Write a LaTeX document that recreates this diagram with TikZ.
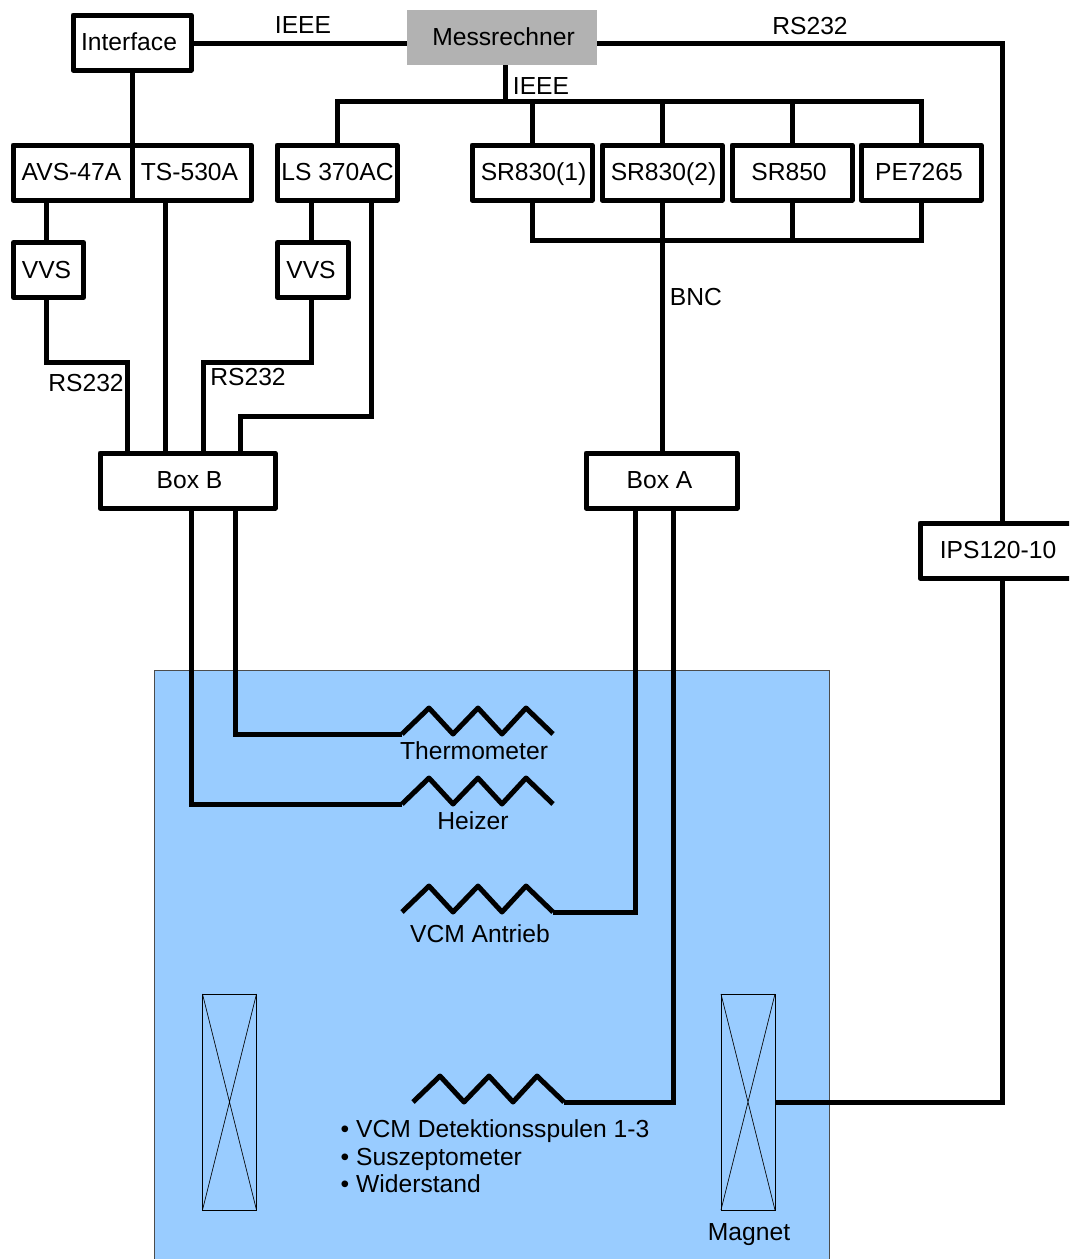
\documentclass[tikz,border=0pt]{standalone}
\usepackage{fontspec}
\setmainfont{Liberation Sans}
\definecolor{bluefill}{HTML}{99CCFF}
\definecolor{grayfill}{HTML}{B2B2B2}
\tikzset{
  x=1pt,y=-1pt,
  box/.style={draw=black,fill=white,line width=5pt,line join=round,inner sep=0pt,outer sep=0pt,minimum width=#1,minimum height=55pt,text height=15.5pt,text depth=0pt,font=\fontsize{24.65}{28}\selectfont},
  graybox/.style={fill=grayfill,inner sep=0pt,outer sep=0pt,minimum width=190pt,minimum height=55pt,text height=15.5pt,text depth=0pt,font=\fontsize{24.65}{28}\selectfont},
  tx/.style={execute at begin node={\hspace*{#1}}},
  wire/.style={draw=black,line width=5pt,line join=miter},
  lbl/.style={inner sep=0pt,anchor=base,font=\fontsize{24.65}{28}\selectfont},
  coilbox/.style={draw=black,line width=0.7pt,inner sep=0pt,outer sep=0pt,minimum width=54pt,minimum height=216pt},
  thin line/.style={draw=black,line width=0.7pt},
}
\newcommand{\mkcoil}[3]{% name, x start, y base
  \coordinate (#1s) at (#2,#3);
  \coordinate (#1e) at ({#2+151},#3);
  \draw[wire,line join=round] (#1s) -- ++(27,-26) -- ++(24,26) -- ++(25,-26) -- ++(24,26) -- ++(24,-26) -- (#1e);
}
\begin{document}
\begin{tikzpicture}
\useasboundingbox (0,0) rectangle (1069,1259);
\clip (0,0) rectangle (1069,1259);
% vessel
\node[draw=black!70,line width=0.7pt,fill=bluefill,inner sep=0pt,outer sep=0pt,minimum width=675pt,minimum height=600pt,anchor=north west] (vessel) at (154,670) {};
% coils
\node[coilbox] (magl) at (229.5,1102) {};
\node[coilbox] (magr) at (748,1102) {};
\draw[thin line] (magl.north west) -- (magl.south east) (magl.north east) -- (magl.south west);
\draw[thin line] (magr.north west) -- (magr.south east) (magr.north east) -- (magr.south west);
\mkcoil{th}{402}{734}
\mkcoil{he}{402}{804}
\mkcoil{an}{402}{912}
\mkcoil{de}{413}{1102}
% boxes
\node[box=118pt,tx=-6pt] (iface) at (132,42.5) {Interface};
\node[graybox,tx=3pt] (mess) at (502,37.5) {Messrechner};
\node[box=119pt,tx=-2pt] (avs) at (72.5,172.5) {AVS-47A};
\node[box=119pt,tx=-4pt] (ts) at (191.5,172.5) {TS-530A};
\node[box=120pt,tx=1pt] (ls) at (337,172.5) {LS 370AC};
\node[box=120pt,tx=3pt] (sra) at (532,172.5) {SR830(1)};
\node[box=120pt,tx=3pt] (srb) at (662,172.5) {SR830(2)};
\node[box=120pt,tx=-6pt] (src) at (792,172.5) {SR850};
\node[box=120pt,tx=-4pt] (pe) at (921,172.5) {PE7265};
\node[box=70pt,tx=-4pt,text height=17.5pt] (vvsa) at (48.5,270) {VVS};
\node[box=71pt,tx=-4pt,text height=17.5pt] (vvsb) at (313,270) {VVS};
\node[box=175pt,tx=4pt] (boxb) at (187.5,480.5) {Box B};
\node[box=151pt,tx=-4pt] (boxa) at (661.5,480.5) {Box A};
\node[box=152pt,tx=4pt] (ips) at (996,550.5) {IPS120-10};
% helper x positions
\coordinate (xa) at (46,362);
\coordinate (xb) at (127,362);
\coordinate (xc) at (165,0);
\coordinate (xd) at (311,362);
\coordinate (xe) at (203,362);
\coordinate (xf) at (371,416);
\coordinate (xg) at (240,416);
\coordinate (xh) at (191,804);
\coordinate (xi) at (235,734);
\coordinate (xj) at (635,912);
\coordinate (xk) at (673,1102);
\coordinate (xl) at (1002,43);
\coordinate (bus) at (505,101);
\coordinate (busb) at (532,240);
% top connectors
\draw[wire] (iface.east |- xl) -- (mess.west |- xl);
\draw[wire] (mess.east |- xl) -- (xl) -- (xl |- ips.north);
\draw[wire] (xl |- ips.south) -- (xl |- magr.east) -- (magr.east);
\draw[wire] (iface.south) -- (avs.north east);
\draw[wire] (bus |- mess.south) -- (bus);
\draw[wire] (ls.north) -- (ls.north |- bus) -- (pe.north |- bus) -- (pe.north);
\draw[wire] (sra.north |- bus) -- (sra.north);
\draw[wire] (srb.north |- bus) -- (srb.north);
\draw[wire] (src.north |- bus) -- (src.north);
% lock-in bus
\draw[wire] (sra.south) -- (sra.south |- busb) -- (pe.south |- busb) -- (pe.south);
\draw[wire] (src.south) -- (src.south |- busb);
\draw[wire] (srb.south) -- (srb.south |- boxa.north);
% left connectors
\draw[wire] (xa |- avs.south) -- (xa |- vvsa.north);
\draw[wire] (xa |- vvsa.south) -- (xa) -- (xb) -- (xb |- boxb.north);
\draw[wire] (xc |- ts.south) -- (xc |- boxb.north);
\draw[wire] (xd |- ls.south) -- (xd |- vvsb.north);
\draw[wire] (xd |- vvsb.south) -- (xd) -- (xe) -- (xe |- boxb.north);
\draw[wire] (xf |- ls.south) -- (xf) -- (xg) -- (xg |- boxb.north);
% to coils
\draw[wire] (xh |- boxb.south) -- (xh) -- (hes);
\draw[wire] (xi |- boxb.south) -- (xi) -- (ths);
\draw[wire] (xj |- boxa.south) -- (xj) -- (ane);
\draw[wire] (xk |- boxa.south) -- (xk) -- (dee);
% labels
\node[lbl] (l1) at (303,33) {IEEE};
\node[lbl] (l2) at (810,34) {RS232};
\node[lbl] (l3) at (541,94) {IEEE};
\node[lbl] (l4) at (696,305) {BNC};
\node[lbl] (l5) at (86,391) {RS232};
\node[lbl] (l6) at (248,385) {RS232};
\node[lbl] (l7) at (474,759) {Thermometer};
\node[lbl] (l8) at (473,829) {Heizer};
\node[lbl] (l9) at (480,942) {VCM Antrieb};
\node[lbl] (l10) at (749,1240) {Magnet};
\node[lbl,anchor=base west] (b1) at (340.5,1137) {• VCM Detektionsspulen 1-3};
\node[lbl,anchor=base west] (b2) at (340.5,1165) {• Suszeptometer};
\node[lbl,anchor=base west] (b3) at (340.5,1192) {• Widerstand};
\end{tikzpicture}
\end{document}
